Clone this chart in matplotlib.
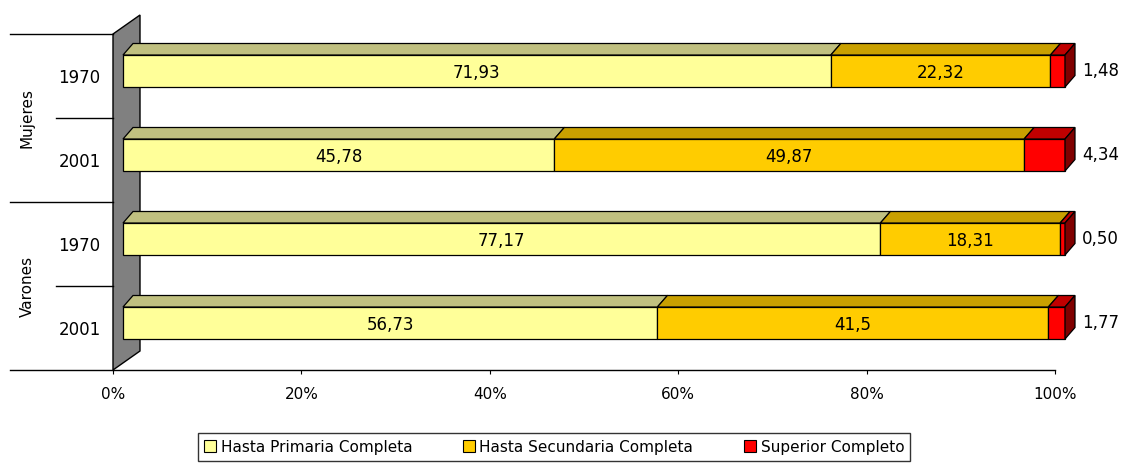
import matplotlib
matplotlib.use("Agg")
import matplotlib.pyplot as plt
from matplotlib.patches import Polygon, Patch
import numpy as np

# data
groups = ['Mujeres', 'Varones']
years = ['1970', '2001', '1970', '2001']
series_names = ['Hasta Primaria Completa', 'Hasta Secundaria Completa', 'Superior Completo']
primaria = [71.93, 45.78, 77.17, 56.73]
secundaria = [22.32, 49.87, 18.31, 41.5]
superior = [1.48, 4.34, 0.50, 1.77]
x_ticks = [0, 20, 40, 60, 80, 100]

face_colors = ['#FFFF99', '#FFCC00', '#FF0000']
top_colors = ['#C0C080', '#C9A000', '#C00000']
side_color = '#800000'

plt.rcParams['font.family'] = ['DejaVu Sans']

fig = plt.figure(figsize=(11.24, 4.69), dpi=100)
ax = fig.add_axes([113/1124, 99/469, 942/1124, 336/469])
ax.set_xlim(0, 100)
ax.set_ylim(3.5, -0.5)

# pixel -> data unit helpers (styling only)
px_x = 100 / 942
px_y = 4 / 336
dx, dy = 10 * px_x, 11.5 * px_y
shift_x, shift_y = 10 * px_x, 5 * px_y
bar_h = 32 * px_y

# gray back wall on the left
wall_dx, wall_dy = 27 * px_x, 19 * px_y
wall = Polygon([(0, -0.5), (wall_dx, -0.5 - wall_dy), (wall_dx, 3.5 - wall_dy), (0, 3.5)],
               closed=True, facecolor='#808080', edgecolor='black', lw=1, zorder=1, clip_on=False)
ax.add_patch(wall)

data = np.array([primaria, secundaria, superior]).T
for i, row in enumerate(data):
    pct = row / row.sum() * 100
    lefts = np.concatenate([[0], np.cumsum(pct)[:-1]]) + shift_x
    yc = i - shift_y
    y_top = yc - bar_h / 2
    y_bot = yc + bar_h / 2
    for k in range(3):
        l, r = lefts[k], lefts[k] + pct[k]
        ax.barh(yc, pct[k], left=l, height=bar_h, color=face_colors[k],
                edgecolor='black', lw=0.9, zorder=3, clip_on=False)
        ax.add_patch(Polygon([(l, y_top), (r, y_top), (r + dx, y_top - dy), (l + dx, y_top - dy)],
                             closed=True, facecolor=top_colors[k], edgecolor='black', lw=0.9,
                             zorder=3, clip_on=False))
    R = lefts[-1] + pct[-1]
    ax.add_patch(Polygon([(R, y_top), (R + dx, y_top - dy), (R + dx, y_bot - dy), (R, y_bot)],
                         closed=True, facecolor=side_color, edgecolor='black', lw=0.9,
                         zorder=3, clip_on=False))

    # value labels
    ax.text(lefts[0] + pct[0] / 2, yc + 0.02, f"{row[0]:.2f}".replace('.', ','),
            ha='center', va='center', fontsize=12, zorder=4)
    ax.text(lefts[1] + pct[1] / 2, yc + 0.02, f"{row[1]:g}".replace('.', ','),
            ha='center', va='center', fontsize=12, zorder=4)
    ax.text(102.9, yc, f"{row[2]:.2f}".replace('.', ','),
            ha='left', va='center', fontsize=12, zorder=4, clip_on=False)

# axes styling
for s in ['top', 'right', 'left']:
    ax.spines[s].set_visible(False)
ax.spines['bottom'].set_linewidth(1)
ax.set_xticks(x_ticks)
ax.set_xticklabels([f"{t}%" for t in x_ticks], fontsize=11)
ax.tick_params(axis='x', length=3, pad=9)
ax.set_yticks(range(len(years)))
ax.set_yticklabels(years, fontsize=12)
ax.tick_params(axis='y', length=0, pad=9)

# category separators and group labels
trans = ax.get_yaxis_transform()
for y in [-0.5, 1.5, 3.5]:
    ax.plot([-0.109, 0], [y, y], color='black', lw=1, transform=trans, clip_on=False)
for y in [0.5, 2.5]:
    ax.plot([-0.060, 0], [y, y], color='black', lw=1, transform=trans, clip_on=False)
for g, name in enumerate(groups):
    ax.text(-0.091, 2 * g + 0.5, name, rotation=90, ha='center', va='center',
            fontsize=11, transform=trans)

handles = [Patch(facecolor=c, edgecolor='black', lw=0.8) for c in face_colors]
fig.legend(handles, series_names, loc='center', ncol=3, mode='expand',
           bbox_to_anchor=(190/1124, 7/469, 728/1124, 30/469),
           fontsize=11, frameon=True, fancybox=False, edgecolor='black',
           handlelength=0.8, handleheight=0.8, handletextpad=0.3,
           borderpad=0.4, columnspacing=0.5)

fig.savefig('out.png', dpi=100)
